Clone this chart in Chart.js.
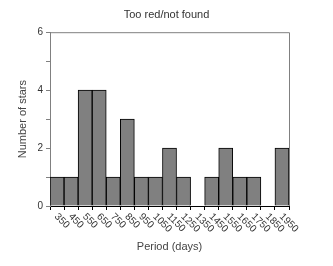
<!DOCTYPE html>
<html>
<head>
<meta charset="utf-8">
<script src="https://cdn.jsdelivr.net/npm/chart.js@4"></script>
<style>
  html, body { margin: 0; padding: 0; background: #fff; }
  #wrap { width: 333px; height: 266px; }
</style>
</head>
<body>
<div id="wrap"><canvas id="periodHist"></canvas></div>
<script>
const periods = ['350', '450', '550', '650', '750', '850', '950', '1050', '1150',
  '1250', '1350', '1450', '1550', '1650', '1750', '1850', '1950'];
const starCounts = [1, 1, 4, 4, 1, 3, 1, 1, 2, 1, 0, 1, 2, 1, 1, 0, 2];
const yTickLabels = [0, 2, 4, 6];

const fontFamily = '"Liberation Sans", Arial, sans-serif';

// box lines on top and right + slanted period labels under the bars
const framePlugin = {
  id: 'frame',
  afterDraw(chart) {
    const ctx = chart.ctx;
    const a = chart.chartArea;
    ctx.save();
    ctx.strokeStyle = '#808080';
    ctx.lineWidth = 1;
    ctx.beginPath();
    ctx.moveTo(a.left, a.top + 0.5);
    ctx.lineTo(a.right + 0.5, a.top + 0.5);
    ctx.lineTo(a.right + 0.5, a.bottom);
    ctx.stroke();

    const xs = chart.scales.x;
    ctx.fillStyle = '#333';
    ctx.font = '10px ' + fontFamily;
    ctx.textAlign = 'left';
    ctx.textBaseline = 'middle';
    periods.forEach((p, i) => {
      const x = xs.getPixelForTick(i);
      ctx.save();
      ctx.translate(x - 1, xs.top + 9);
      ctx.rotate(Math.PI / 4);
      ctx.fillText(p, 0, 0);
      ctx.restore();
    });
    ctx.restore();
  }
};

const data = {
  labels: periods,
  datasets: [{
    label: 'Number of stars',
    data: starCounts,
    backgroundColor: '#808080',
    borderColor: '#000',
    borderWidth: 1,
    barPercentage: 1,
    categoryPercentage: 1
  }]
};

const config = {
  type: 'bar',
  data: data,
  plugins: [framePlugin],
  options: {
    responsive: true,
    maintainAspectRatio: false,
    animation: false,
    layout: { padding: 0 },
    scales: {
      x: {
        offset: true,
        afterFit: s => { s.height = 60; },
        border: { color: '#000' },
        grid: { display: true, drawOnChartArea: false, offset: true, tickLength: 4, color: '#000' },
        ticks: { display: false },
        title: {
          display: true,
          text: 'Period (days)',
          color: '#444',
          font: { family: fontFamily, size: 11 },
          padding: { top: 0, bottom: 12 }
        }
      },
      y: {
        min: 0,
        max: 6,
        afterFit: s => { s.width = 50; },
        border: { color: '#808080' },
        grid: { drawOnChartArea: false, tickLength: 4, color: '#808080' },
        ticks: {
          stepSize: 1,
          padding: 3,
          color: '#333',
          font: { family: fontFamily, size: 10 },
          callback: v => yTickLabels.includes(v) ? String(v) : ''
        },
        title: {
          display: true,
          text: 'Number of stars',
          color: '#444',
          font: { family: fontFamily, size: 11 },
          padding: { top: 16, bottom: 0 }
        }
      },
      // empty right-hand margin
      yRight: {
        position: 'right',
        afterFit: s => { s.width = 44; },
        border: { display: false },
        grid: { display: false },
        ticks: { display: false }
      }
    },
    plugins: {
      legend: { display: false },
      tooltip: { enabled: false },
      title: {
        display: true,
        text: 'Too red/not found',
        color: '#333',
        font: { family: fontFamily, size: 11, weight: 'normal' },
        padding: { top: 8, bottom: 11 }
      }
    }
  }
};

const histChart = new Chart(document.getElementById('periodHist'), config);
</script>
</body>
</html>
